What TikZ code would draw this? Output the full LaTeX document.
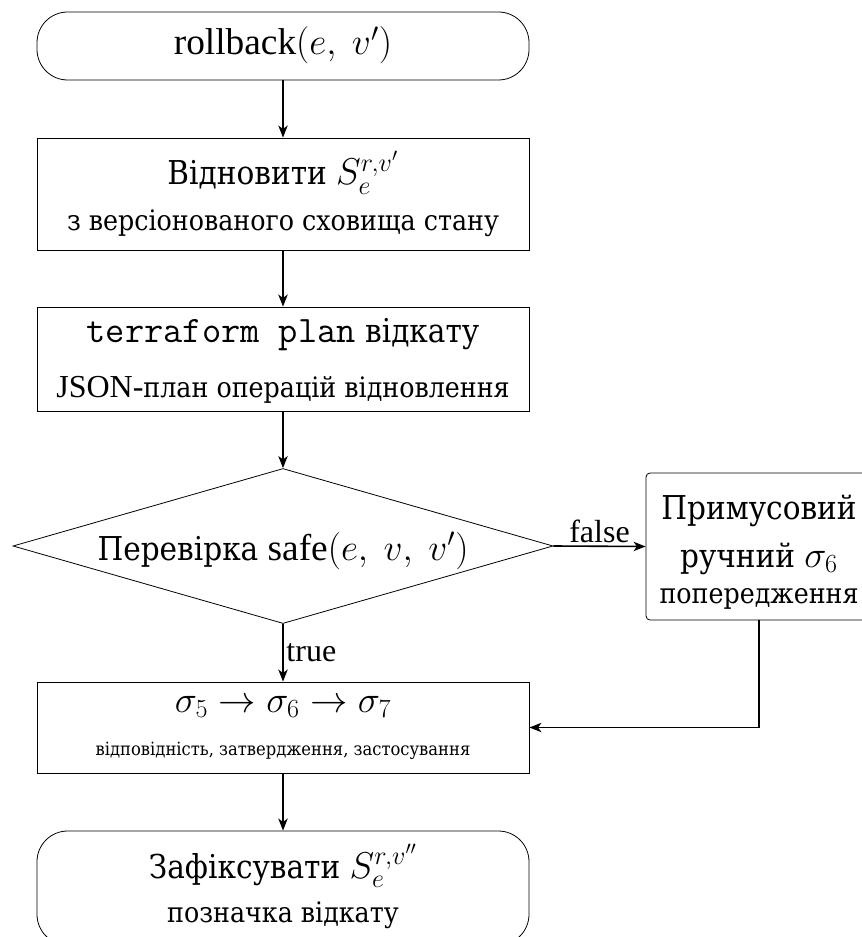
\RequirePackage{fix-cm}
\documentclass[tikz,border=0pt]{standalone}
\usepackage[no-math]{fontspec}
\setmainfont{Liberation Serif}
% serif face for the Cyrillic runs
\newfontfamily\cyrfont{DejaVu Serif}[Script=Cyrillic, Scale=0.88, FakeStretch=0.9]
\newcommand\cy[1]{{\cyrfont #1}}
\usetikzlibrary{shapes.geometric,arrows.meta,fit}

% font sizes used in the flowchart
\newcommand\fsBig{\fontsize{28}{34}\selectfont}
\newcommand\fsMid{\fontsize{24}{29}\selectfont}
\newcommand\fsSmall{\fontsize{15.5}{18}\selectfont}

\begin{document}
\begin{tikzpicture}[x=0.75pt,y=-0.75pt,
  boxline/.style={draw, line width=0.6pt, inner sep=0pt},
  stepbox/.style={boxline, rectangle},
  termbox/.style={boxline, rectangle, rounded corners=23pt},
  warnbox/.style={boxline, rectangle, rounded corners=3pt},
  decision/.style={boxline, diamond, aspect=3.48,
    minimum width=405pt, minimum height=116.25pt},
  txt/.style={inner sep=0pt, anchor=base},
  flow/.style={line width=1.2pt, -{Stealth[length=9pt,width=7pt,inset=2.5pt]}},
  edgelabel/.style={font=\fsMid, inner sep=2pt}
]
% canvas
\useasboundingbox (0,0) rectangle (862,937);

% boxes
\node[termbox, fit={(37,12) (529,80)}]   (start)   {};
\node[stepbox, fit={(37,138) (529,250)}] (restore) {};
\node[stepbox, fit={(37,307) (529,411)}] (plan)    {};
\node[decision] (check) at (283,546) {};
\node[warnbox, fit={(646,473) (872,620)}] (warn)  {};
\node[stepbox, fit={(37,682) (529,773)}] (stages)  {};
\node[termbox, fit={(37,831) (529,945)}] (commit)  {};

% texts
\node[txt, font=\fsBig] (startT) at (283,55) {rollback$(e,\ v')$};
\node[txt, font=\fsBig] (restoreA) at (283,185) {\cy{Відновити} $S_e^{r,v'}$};
\node[txt, font=\fsMid] (restoreB) at (283,231) {\cy{з версіонованого сховища стану}};
\node[txt, font=\fsBig] (planA) at (283,343) {\texttt{terraform plan} \cy{відкату}};
\node[txt, font=\fsMid] (planB) at (283,397) {JSON-\cy{план операцій відновлення}};
\node[txt, font=\fsBig] (checkT) at (283,560) {\cy{Перевірка} safe$(e,\ v,\ v')$};
\node[txt, font=\fsBig] (warnA) at (759,519) {\cy{Примусовий}};
\node[txt, font=\fsBig] (warnB) at (759,567) {\cy{ручний} $\sigma_6$};
\node[txt, font=\fsMid] (warnC) at (759,603) {\cy{попередження}};
\node[txt, font=\fsBig] (stagesA) at (283,712) {$\sigma_5 \to \sigma_6 \to \sigma_7$};
\node[txt, font=\fsSmall] (stagesB) at (283,755) {\cy{відповідність, затвердження, застосування}};
\node[txt, font=\fsBig] (commitA) at (283,878) {\cy{Зафіксувати} $S_e^{r,v''}$};
\node[txt, font=\fsMid] (commitB) at (283,922) {\cy{позначка відкату}};

% connectors
\draw[flow] (start) -- (restore);
\draw[flow] (restore) -- (plan);
\draw[flow] (plan) -- (check);
\draw[flow] (check.east) -- node[edgelabel, above] {false} (warn.west);
\draw[flow] (check.south) -- node[edgelabel, right, pos=0.5] {true} (stages.north);
\draw[flow] (warn.south) |- (stages.east);
\draw[flow] (stages) -- (commit);
\end{tikzpicture}
\end{document}
